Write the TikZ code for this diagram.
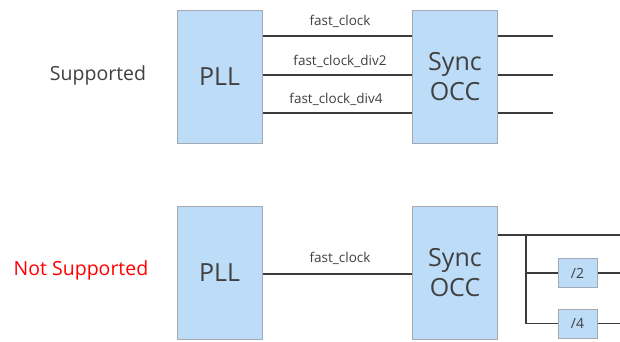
\documentclass[tikz,border=0pt]{standalone}
\usepackage{fontspec}
\setmainfont{Open Sans}
\usetikzlibrary{positioning}
\definecolor{boxfill}{HTML}{BDDCF7}
\definecolor{boxline}{HTML}{A3A9AE}
\definecolor{wire}{HTML}{3C3C3C}
\definecolor{txt}{HTML}{404040}
\begin{document}
\begin{tikzpicture}[
        x=1pt, y=-1pt,
        blk/.style={draw=boxline, fill=boxfill, line width=1pt, text=txt, inner sep=0pt, align=center, font=\fontsize{25}{30}\selectfont},
        big/.style={blk, minimum width=85pt, minimum height=133pt},
        divbox/.style={blk, minimum width=39pt, minimum height=29pt, font=\fontsize{14}{16}\selectfont},
        wirestyle/.style={draw=wire, line width=1.6pt},
        lbl/.style={text=txt, font=\fontsize{13.5}{16}\selectfont, inner sep=1pt},
        side/.style={font=\fontsize{19.5}{22}\selectfont, inner sep=0pt},
    ]
    \useasboundingbox (0,0) rectangle (620,341);
    % supported case
    \node[side, text=txt] (sup) at (98,75) {Supported};
    \node[big] (pllA) at (219.5,76.5) {PLL};
    \node[big] (occA) at (455,76.5) {Sync\\OCC};
    \foreach \yy/\nm in {36/a, 75/b, 113/c} {
        \coordinate (outA\nm) at (553,\yy);
        \draw[wirestyle] (pllA.east |- outA\nm) -- (occA.west |- outA\nm);
        \draw[wirestyle] (occA.east |- outA\nm) -- (outA\nm);
    }
    \node[lbl] (fa) at (340,21) {fast\_clock};
    \node[lbl] (fb) at (340,61) {fast\_clock\_div2};
    \node[lbl] (fc) at (336,99) {fast\_clock\_div4};
    % not supported case
    \node[side, text=red] (nsup) at (81,270) {Not Supported};
    \node[big] (pllB) at (219.5,273) {PLL};
    \node[big] (occB) at (455,273) {Sync\\OCC};
    \draw[wirestyle] (pllB.east |- 0,274) -- (occB.west |- 0,274);
    \node[lbl] (fd) at (340,258) {fast\_clock};
    \node[divbox] (div2) at (577.5,273) {/2};
    \node[divbox] (div4) at (577.5,323.5) {/4};
    \coordinate (outB1) at (620,235);
    \coordinate (outB2) at (620,274);
    \coordinate (outB3) at (620,323.5);
    \coordinate (fork) at (526,235);
    \draw[wirestyle] (occB.east |- fork) -- (outB1);
    \draw[wirestyle] (fork) |- (div4.west);
    \draw[wirestyle] (fork |- div2.west) -- (div2.west);
    \draw[wirestyle] (div2.east) -- (outB2 |- div2.east);
    \draw[wirestyle] (div4.east) -- (outB3);
\end{tikzpicture}
\end{document}
